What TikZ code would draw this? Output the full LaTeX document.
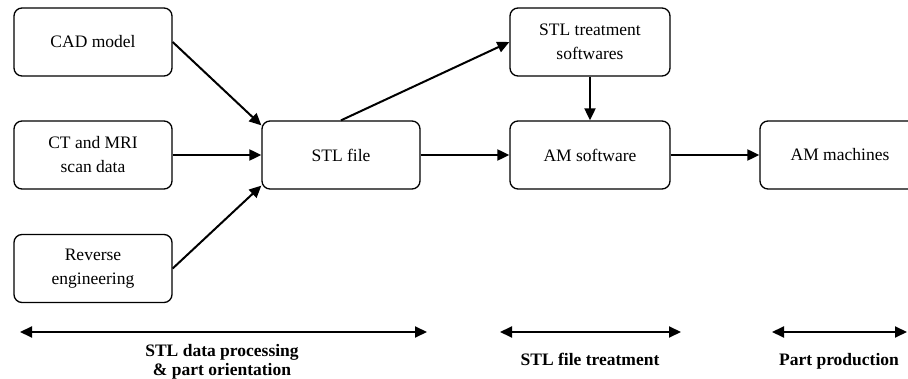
\documentclass[tikz,border=0pt]{standalone}
\usepackage{fontspec}
\setmainfont{Liberation Serif}
\usetikzlibrary{arrows.meta,calc}
\tikzset{
  boxnode/.style={draw, line width=1.3pt, rounded corners=8pt, minimum width=158pt, minimum height=68pt, inner sep=0pt, align=center, font=\fontsize{17.5}{24}\selectfont},
  flow/.style={line width=2pt, -{Triangle[length=12pt,width=11pt]}},
  span/.style={line width=2pt, {Triangle[length=12pt,width=11pt]}-{Triangle[length=12pt,width=11pt]}},
  phase/.style={align=center, font=\fontsize{17.5}{19.5}\selectfont\bfseries}
}
\begin{document}
\begin{tikzpicture}[x=1pt,y=-1pt]
\useasboundingbox (0,0) rectangle (908,379);
\clip (0,0) rectangle (908,379);
\node[boxnode] (cad) at (93,42) {CAD model};
\node[boxnode] (ct) at (93,155) {CT and MRI\\scan data};
\node[boxnode] (rev) at (93,268.5) {Reverse\\engineering};
\node[boxnode] (stl) at (341,155) {STL file};
\node[boxnode, minimum width=160pt] (tr) at (590,42) {STL treatment\\softwares};
\node[boxnode, minimum width=160pt] (ams) at (590,155) {AM software};
\node[boxnode, minimum width=160pt] (amm) at (840,155) {AM machines};

\draw[flow] (cad.east) -- ($(stl.north west)+(0,5)$);
\draw[flow] (ct.east) -- (stl.west);
\draw[flow] (rev.east) -- ($(stl.south west)+(0,-4)$);
\draw[flow] (stl.north) -- (tr.west);
\draw[flow] (stl.east) -- (ams.west);
\draw[flow] (tr.south) -- (ams.north);
\draw[flow] (ams.east) -- (amm.west);

\coordinate (a1) at (20,332);
\coordinate (b1) at (427,332);
\coordinate (a2) at (500,332);
\coordinate (b2) at (681,332);
\coordinate (a3) at (772,332);
\coordinate (b3) at (907,332);
\draw[span] (a1) -- (b1);
\draw[span] (a2) -- (b2);
\draw[span] (a3) -- (b3);

\node[phase] (p1) at (222,362) {STL data processing\\\& part orientation};
\node[phase, anchor=base] (p2) at (590,366) {STL file treatment};
\node[phase, anchor=base] (p3) at (839,366) {Part production};
\end{tikzpicture}
\end{document}
